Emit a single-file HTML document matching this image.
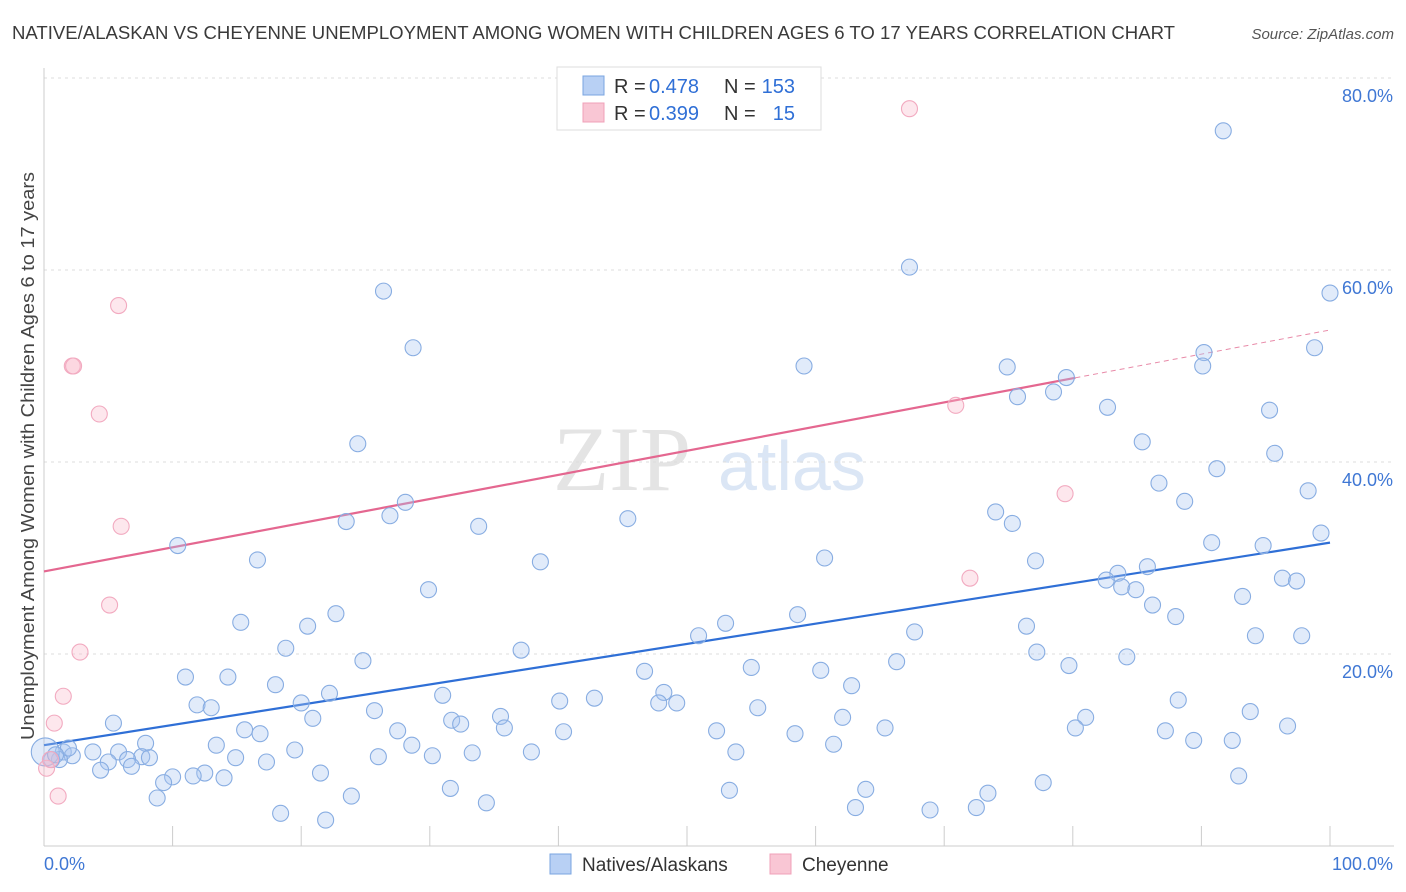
<!DOCTYPE html>
<html><head><meta charset="utf-8"><style>
body{margin:0;background:#fff;font-family:"Liberation Sans",sans-serif;}
svg{display:block}
</style></head><body>
<svg id="chart" width="1406" height="892" xmlns="http://www.w3.org/2000/svg">
<text x="12" y="39" font-size="18" fill="#3a3a3a" textLength="1163" lengthAdjust="spacingAndGlyphs">NATIVE/ALASKAN VS CHEYENNE UNEMPLOYMENT AMONG WOMEN WITH CHILDREN AGES 6 TO 17 YEARS CORRELATION CHART</text>
<text x="1394" y="39" font-size="15" fill="#555" font-style="italic" text-anchor="end">Source: ZipAtlas.com</text>
<g>
<text x="553" y="490" font-size="92" font-family="Liberation Serif,serif" fill="#e4e4e4">ZIP</text>
<text x="718" y="490" font-size="70" fill="#dbe6f5">atlas</text>
</g>
<g id="grid"></g>
<g id="axes"></g>
<g id="trends"></g>
<g id="pts"></g>
<text transform="translate(34,456) rotate(-90)" font-size="18" fill="#444" text-anchor="middle" textLength="568" lengthAdjust="spacingAndGlyphs">Unemployment Among Women with Children Ages 6 to 17 years</text>
<g>
<rect x="557" y="67" width="264" height="63" fill="#fff" stroke="#ddd"/>
<rect x="583" y="76" width="21" height="19" fill="#b8d0f4" stroke="#7aa5e0"/>
<rect x="583" y="103" width="21" height="19" fill="#f9c6d4" stroke="#f0a0b8"/>
<text x="614" y="93" font-size="20" fill="#333">R =</text>
<text x="649" y="93" font-size="20" fill="#2f6fd6">0.478</text>
<text x="724" y="93" font-size="20" fill="#333">N =</text>
<text x="795" y="93" font-size="20" fill="#2f6fd6" text-anchor="end">153</text>
<text x="614" y="120" font-size="20" fill="#333">R =</text>
<text x="649" y="120" font-size="20" fill="#2f6fd6">0.399</text>
<text x="724" y="120" font-size="20" fill="#333">N =</text>
<text x="795" y="120" font-size="20" fill="#2f6fd6" text-anchor="end">15</text>
</g>
<g>
<rect x="550" y="854" width="21" height="20" fill="#b8d0f4" stroke="#7aa5e0"/>
<text x="582" y="871" font-size="19" fill="#333">Natives/Alaskans</text>
<rect x="770" y="854" width="21" height="20" fill="#f9c6d4" stroke="#f0a0b8"/>
<text x="802" y="871" font-size="19" fill="#333">Cheyenne</text>
</g>
</svg>
<script>
const blueX=[91.7,67.3,100,26.4,28.7,59.1,74.9,90.2,90.1,98.8,79.5,78.5,75.7,82.7,95.3,24.4,85.4,95.7,91.2,86.7,28.1,88.7,98.3,74.0,75.3,23.5,26.9,33.8,45.4,99.3,90.8,94.8,10.4,16.6,38.6,60.7,77.1,85.8,83.5,82.6,96.3,97.4,83.8,84.9,29.9,86.2,93.2,22.7,58.6,88.0,15.3,20.5,53.0,50.9,76.4,67.7,94.2,97.8,18.8,37.1,77.2,84.2,24.8,66.3,46.7,55.0,60.4,79.7,11.0,14.3,18.0,22.2,31.0,48.2,62.8,11.9,13.0,20.0,40.1,42.8,47.8,49.2,88.2,55.5,25.7,20.9,31.7,32.4,35.5,81.0,93.8,62.1,5.4,35.8,40.4,27.5,80.2,87.2,96.7,65.4,52.3,58.4,15.6,16.8,7.9,13.4,28.6,61.4,89.4,92.4,19.5,33.3,37.9,3.8,5.8,53.8,1.5,2.2,1.2,0.6,1.9,7.6,8.2,5.0,6.5,6.8,14.9,17.3,26.0,30.2,4.4,12.5,21.5,11.6,10.0,14.0,92.9,9.3,31.6,53.3,63.9,77.7,8.8,23.9,34.4,73.4,18.4,63.1,68.9,72.5,21.9,0.1,0.9];
const blueY=[74.5,60.3,57.6,57.8,51.9,50.0,49.9,51.4,50.0,51.9,48.8,47.3,46.8,45.7,45.4,41.9,42.1,40.9,39.3,37.8,35.8,35.9,37.0,34.8,33.6,33.8,34.4,33.3,34.1,32.6,31.6,31.3,31.3,29.8,29.6,30.0,29.7,29.1,28.4,27.7,27.9,27.6,27.0,26.7,26.7,25.1,26.0,24.2,24.1,23.9,23.3,22.9,23.2,21.9,22.9,22.3,21.9,21.9,20.6,20.4,20.2,19.7,19.3,19.2,18.2,18.6,18.3,18.8,17.6,17.6,16.8,15.9,15.7,16.0,16.7,14.7,14.4,14.9,15.1,15.4,14.9,14.9,15.2,14.4,14.1,13.3,13.1,12.7,13.5,13.4,14.0,13.4,12.8,12.3,11.9,12.0,12.3,12.0,12.5,12.3,12.0,11.7,12.1,11.7,10.7,10.5,10.5,10.6,11.0,11.0,10.0,9.7,9.8,9.8,9.8,9.8,9.8,9.4,9.0,9.0,10.2,9.3,9.2,8.75,9.0,8.3,9.2,8.75,9.3,9.4,7.9,7.6,7.6,7.3,7.2,7.1,7.3,6.6,6.0,5.8,5.9,6.6,5.0,5.2,4.5,5.5,3.4,4.0,3.75,4.0,2.7,9.8,9.5];
const pinkX=[67.3,5.8,2.2,2.3,4.3,70.9,79.4,6.0,5.1,2.8,1.5,0.8,72.0,1.1,0.2,0.5];
const pinkY=[76.8,56.3,50.0,50.0,45.0,45.9,36.7,33.3,25.1,20.2,15.6,12.8,27.9,5.2,8.1,9.0];
const blueTrend=[10.5,31.6];
const pinkTrend=[28.6,53.75];
const pinkSolidEnd=80.2;
const yTicks=[20,40,60,80];
const yTickLabels=["20.0%","40.0%","60.0%","80.0%"];
const xTicks=[0,10,20,30,40,50,60,70,80,90,100];

const NS="http://www.w3.org/2000/svg";
const sx=v=>44+v*12.86;
const sy=v=>846-v*9.6;
function mk(tag,attrs,parent){const e=document.createElementNS(NS,tag);for(const k in attrs)e.setAttribute(k,attrs[k]);document.getElementById(parent).appendChild(e);return e;}

yTicks.forEach((t,i)=>{
  const l=mk('line',{x1:44,x2:1394,y1:sy(t),y2:sy(t),stroke:'#ddd','stroke-dasharray':'3,4'},'grid');
  
  
  const tx=mk('text',{x:1393,y:sy(t)+24,'font-size':18,fill:'#3f77d4','text-anchor':'end'},'grid');
  tx.textContent=yTickLabels[i];
  
  
});
const ax=mk('line',{x1:44,x2:44,y1:68,y2:846,stroke:'#ccc'},'axes');


const bx=mk('line',{x1:44,x2:1394,y1:846,y2:846,stroke:'#ccc'},'axes');


xTicks.forEach(t=>{
  const l=mk('line',{x1:sx(t),x2:sx(t),y1:826,y2:846,stroke:'#ccc'},'axes');
  
  
});
const x0=mk('text',{x:44,y:870,'font-size':18,fill:'#3f77d4'},'axes');x0.textContent="0.0%";


const x1=mk('text',{x:1393,y:870,'font-size':18,fill:'#3f77d4','text-anchor':'end'},'axes');x1.textContent="100.0%";



blueX.forEach((x,i)=>{
  const r=(x<0.5&&blueY[i]>9.7)?14:8;
  const c=mk('circle',{cx:sx(x),cy:sy(blueY[i]),r:r,fill:'rgba(170,198,240,0.35)',stroke:'#88ade2','stroke-width':1.1},'pts');
  
  
});
pinkX.forEach((x,i)=>{
  const c=mk('circle',{cx:sx(x),cy:sy(pinkY[i]),r:8,fill:'rgba(248,185,202,0.35)',stroke:'#f2aac0','stroke-width':1.1},'pts');
  
  
});
const pAt=x=>pinkTrend[0]+(pinkTrend[1]-pinkTrend[0])*x/100;
const bt=mk('line',{x1:sx(0),y1:sy(blueTrend[0]),x2:sx(100),y2:sy(blueTrend[1]),stroke:'#2f6fd6','stroke-width':2.2},'trends');


const pt=mk('line',{x1:sx(0),y1:sy(pinkTrend[0]),x2:sx(pinkSolidEnd),y2:sy(pAt(pinkSolidEnd)),stroke:'#e46790','stroke-width':2.2},'trends');


const pd=mk('line',{x1:sx(pinkSolidEnd),y1:sy(pAt(pinkSolidEnd)),x2:sx(100),y2:sy(pinkTrend[1]),stroke:'#e88aa8','stroke-width':1,'stroke-dasharray':'5,4'},'trends');


</script>
</body></html>
